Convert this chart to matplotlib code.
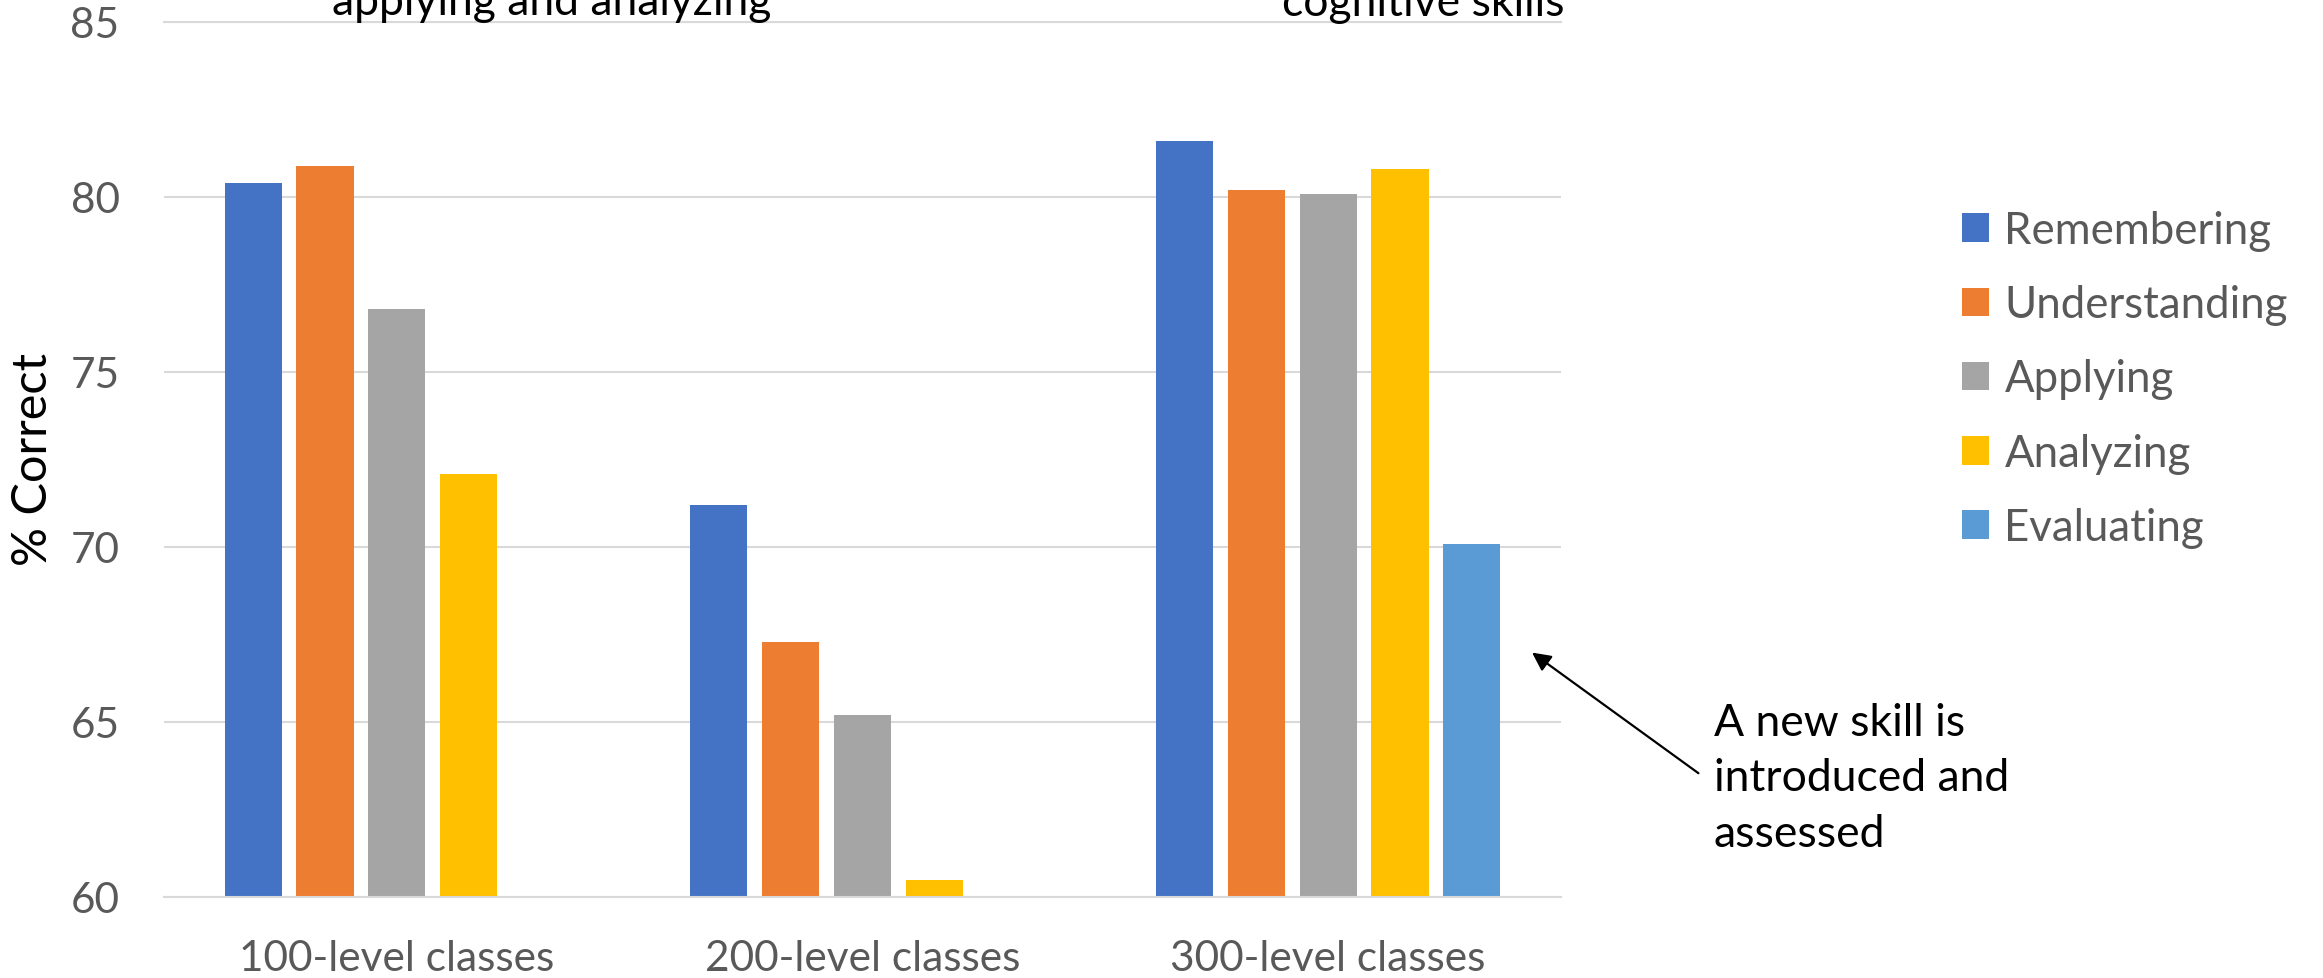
import matplotlib
matplotlib.use("Agg")
import matplotlib.pyplot as plt
import numpy as np

plt.rcParams['font.family'] = ['Lato', 'DejaVu Sans']

# mean score by class level and cognitive skill
classes = ["100-level classes", "200-level classes", "300-level classes"]
skills = ["Remembering", "Understanding", "Applying", "Analyzing", "Evaluating"]
remembering = [80.4, 71.2, 81.6]
understanding = [80.9, 67.3, 80.2]
applying = [76.8, 65.2, 80.1]
analyzing = [72.1, 60.5, 80.8]
evaluating = [np.nan, np.nan, 70.1]
yticks = [60, 65, 70, 75, 80, 85]

series = [remembering, understanding, applying, analyzing, evaluating]
colors = ["#4472C4", "#ED7D31", "#A5A5A5", "#FFC000", "#5B9BD5"]
grey_text = "#595959"

W, H = 2323, 979
fig = plt.figure(figsize=(W / 100, H / 100), dpi=100)
ax = fig.add_axes([164 / W, 1 - 898 / H, (1561 - 164) / W, (898 - 23) / H])

x = np.arange(len(classes))
pitch = 0.1543
width = 0.1225
bars = []
for i, (vals, c) in enumerate(zip(series, colors)):
    b = ax.bar(x + (i - 2) * pitch, vals, width=width, color=c, label=skills[i])
    bars.append(b)

ax.set_xlim(-0.5, 2.5)
ax.set_ylim(60, 85)
ax.set_yticks(yticks)
ax.set_xticks(x)
ax.set_xticklabels(classes)
ax.tick_params(axis='both', length=0, labelsize=30.5, colors=grey_text)
ax.tick_params(axis='y', pad=32)
ax.tick_params(axis='x', pad=30)

ax.set_axisbelow(True)
ax.grid(axis='y', color='#d9d9d9', linewidth=1.5)
for side in ['left', 'right']:
    ax.spines[side].set_visible(False)
for side in ['top', 'bottom']:
    ax.spines[side].set_color('#d9d9d9')
    ax.spines[side].set_linewidth(1.5)

fig.text(33 / W, 1 - 460 / H, "% Correct", rotation=90, ha='center', va='center',
         fontsize=35, color='black')

# last lines of the two callouts above the plot
fig.text(552 / W, 1 - 15 / H, "applying and analyzing", ha='center', va='baseline',
         fontsize=32, color='black')
fig.text(1564 / W, 1 - 16 / H, "cognitive skills", ha='right', va='baseline',
         fontsize=32, color='black')

fig.legend(handles=bars, labels=skills, loc='upper left',
           bbox_to_anchor=(1962 / W, 1 - 211 / H), frameon=False,
           fontsize=31.5, labelcolor=grey_text, handlelength=0.62, handleheight=0.62,
           handletextpad=0.35, labelspacing=0.76, borderpad=0, borderaxespad=0)

ax.annotate("", xy=(2.433, 67.03), xytext=(2.800, 63.49),
            arrowprops=dict(arrowstyle='-|>', color='black', lw=1.6, mutation_scale=28),
            annotation_clip=False)
ax.text(2.828, 61.46, "A new skill is\nintroduced and\nassessed",
        ha='left', va='baseline', fontsize=32, color='black', linespacing=1.44,
        clip_on=False)

fig.savefig("out.png", dpi=100)
